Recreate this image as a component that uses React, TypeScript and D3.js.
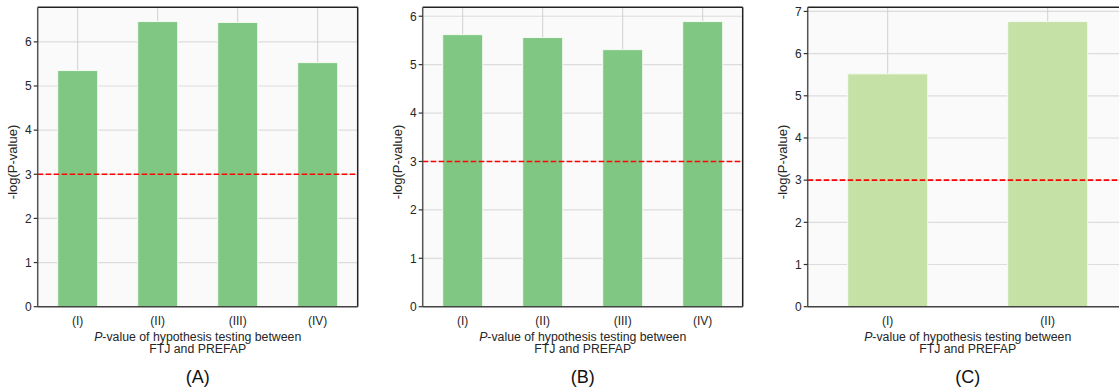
import { useRef, useEffect } from "react"
import * as d3 from "d3"

const panelLabels = ["(A)", "(B)", "(C)"]
const categoriesA = ["(I)", "(II)", "(III)", "(IV)"]
const valuesA = [5.35, 6.46, 6.44, 5.53]
const categoriesB = ["(I)", "(II)", "(III)", "(IV)"]
const valuesB = [5.62, 5.56, 5.31, 5.89]
const categoriesC = ["(I)", "(II)"]
const valuesC = [5.52, 6.76]
const threshold = 3
const yLabel = "-log(P-value)"

const W = 1119
const H = 389

export default function App() {
  const svgRef = useRef<SVGSVGElement | null>(null)

  useEffect(() => {
    if (!svgRef.current) return
    const root = d3.select(svgRef.current)
    root.selectAll("*").remove()

    const panels = [
      { cats: categoriesA, vals: valuesA, color: "#81c784", label: panelLabels[0] },
      { cats: categoriesB, vals: valuesB, color: "#81c784", label: panelLabels[1] },
      { cats: categoriesC, vals: valuesC, color: "#c5e1a5", label: panelLabels[2] },
    ]

    const plotW = 320
    const top = 7.3
    const bottom = 306.7
    const font = "'Liberation Sans', Arial, sans-serif"

    panels.forEach((p, pi) => {
      const left = 37.7 + pi * 385
      const g = root.append("g")

      const x = d3
        .scaleBand<string>()
        .domain(p.cats)
        .range([left, left + plotW])
        .paddingInner(0.5)
        .paddingOuter(0.25)

      const ymax = (d3.max(p.vals) ?? 1) * 1.05
      const y = d3.scaleLinear().domain([0, ymax]).range([bottom, top])
      const ticks = d3.range(0, Math.floor(ymax) + 1)

      // background
      g.append("rect")
        .attr("x", left)
        .attr("y", top)
        .attr("width", plotW)
        .attr("height", bottom - top)
        .attr("fill", "#fafafa")

      // grid
      g.selectAll(".hgrid")
        .data(ticks)
        .enter()
        .append("line")
        .attr("x1", left)
        .attr("x2", left + plotW)
        .attr("y1", (d) => y(d))
        .attr("y2", (d) => y(d))
        .attr("stroke", "#dcdcdc")
        .attr("stroke-width", 1.2)

      g.selectAll(".vgrid")
        .data(p.cats)
        .enter()
        .append("line")
        .attr("x1", (d) => x(d)! + x.bandwidth() / 2)
        .attr("x2", (d) => x(d)! + x.bandwidth() / 2)
        .attr("y1", top)
        .attr("y2", bottom)
        .attr("stroke", "#d0d0d0")
        .attr("stroke-width", 1)

      // bars
      g.selectAll(".bar")
        .data(p.vals)
        .enter()
        .append("rect")
        .attr("x", (_, i) => x(p.cats[i])!)
        .attr("y", (d) => y(d))
        .attr("width", x.bandwidth())
        .attr("height", (d) => bottom - y(d))
        .attr("fill", p.color)
        .attr("stroke", "#f4fbf2")
        .attr("stroke-width", 1)

      // threshold line
      g.append("line")
        .attr("x1", left)
        .attr("x2", left + plotW)
        .attr("y1", y(threshold))
        .attr("y2", y(threshold))
        .attr("stroke", "#ff0000")
        .attr("stroke-width", 1.6)
        .attr("stroke-dasharray", "5.5,2.5")

      // spines
      g.append("line").attr("x1", left).attr("x2", left + plotW).attr("y1", top).attr("y2", top)
        .attr("stroke", "#222").attr("stroke-width", 1.5)
      g.append("line").attr("x1", left + plotW).attr("x2", left + plotW).attr("y1", top).attr("y2", bottom)
        .attr("stroke", "#222").attr("stroke-width", 1.5)
      g.append("line").attr("x1", left).attr("x2", left).attr("y1", top).attr("y2", bottom)
        .attr("stroke", "#555").attr("stroke-width", 1.5)
      g.append("line").attr("x1", left).attr("x2", left + plotW).attr("y1", bottom).attr("y2", bottom)
        .attr("stroke", "#444").attr("stroke-width", 1.5)

      // y ticks
      const yt = g.selectAll(".ytick").data(ticks).enter().append("g")
      yt.append("line")
        .attr("x1", left - 4)
        .attr("x2", left)
        .attr("y1", (d) => y(d))
        .attr("y2", (d) => y(d))
        .attr("stroke", "#333")
        .attr("stroke-width", 1.2)
      yt.append("text")
        .attr("x", left - 6)
        .attr("y", (d) => y(d))
        .attr("dy", "0.36em")
        .attr("text-anchor", "end")
        .style("font-family", font)
        .style("font-size", "12px")
        .attr("fill", "#262626")
        .text((d) => String(d))

      // x tick labels
      g.selectAll(".xtick")
        .data(p.cats)
        .enter()
        .append("text")
        .attr("x", (d) => x(d)! + x.bandwidth() / 2)
        .attr("y", 325)
        .attr("text-anchor", "middle")
        .style("font-family", font)
        .style("font-size", "12px")
        .attr("fill", "#262626")
        .text((d) => d)

      // x label
      const cx = left + plotW / 2
      const xl = g.append("text")
        .attr("x", cx)
        .attr("y", 340.5)
        .attr("text-anchor", "middle")
        .style("font-family", font)
        .style("font-size", "12.3px")
        .attr("fill", "#262626")
      xl.append("tspan").style("font-style", "italic").text("P")
      xl.append("tspan").text("-value of hypothesis testing between")
      g.append("text")
        .attr("x", cx)
        .attr("y", 353)
        .attr("text-anchor", "middle")
        .style("font-family", font)
        .style("font-size", "12.3px")
        .attr("fill", "#262626")
        .text("FTJ and PREFAP")

      // y label
      g.append("text")
        .attr("transform", `translate(${left - 21},${(top + bottom) / 2 + 5}) rotate(-90)`)
        .attr("text-anchor", "middle")
        .style("font-family", font)
        .style("font-size", "13px")
        .attr("fill", "#262626")
        .text(yLabel)

      // panel label
      g.append("text")
        .attr("x", cx)
        .attr("y", 383)
        .attr("text-anchor", "middle")
        .style("font-family", font)
        .style("font-size", "18px")
        .attr("fill", "#111")
        .text(p.label)
    })
  }, [])

  return (
    <svg
      ref={svgRef}
      width={W}
      height={H}
      style={{ position: "absolute", left: 0, top: 0, background: "#fff" }}
    ></svg>
  )
}
